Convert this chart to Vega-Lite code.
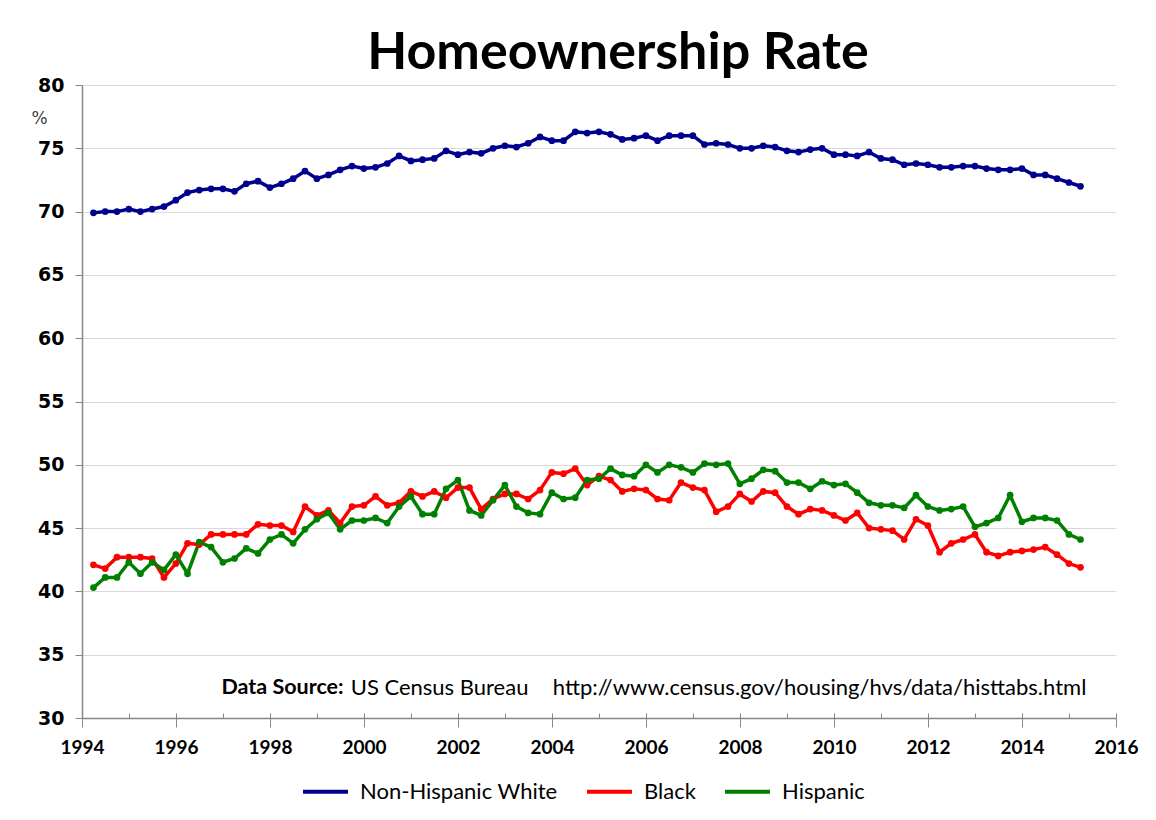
{
  "$schema": "https://vega.github.io/schema/vega-lite/v6.json",
  "autosize": {"type": "none"},
  "width": 1034,
  "height": 633,
  "padding": {"left": 82, "top": 85, "right": 40, "bottom": 102},
  "background": "white",
  "title": {"text": "Homeownership Rate", "font": "Lato", "fontSize": 52, "fontWeight": "bold", "color": "black", "anchor": "middle", "frame": "group", "baseline": "alphabetic", "offset": 14, "dx": 19, "dy": 59},
  "config": {"view": {"stroke": null}},
  "resolve": {"axis": {"x": "independent"}},
  "layer": [
    {
      "data": {"values": [
        {"d": "1994-03-31", "Non-Hispanic White": 69.9, "Black": 42.1, "Hispanic": 40.3},
        {"d": "1994-06-30", "Non-Hispanic White": 70.0, "Black": 41.8, "Hispanic": 41.1},
        {"d": "1994-09-30", "Non-Hispanic White": 70.0, "Black": 42.7, "Hispanic": 41.1},
        {"d": "1994-12-31", "Non-Hispanic White": 70.2, "Black": 42.7, "Hispanic": 42.3},
        {"d": "1995-03-31", "Non-Hispanic White": 70.0, "Black": 42.7, "Hispanic": 41.4},
        {"d": "1995-06-30", "Non-Hispanic White": 70.2, "Black": 42.6, "Hispanic": 42.3},
        {"d": "1995-09-30", "Non-Hispanic White": 70.4, "Black": 41.1, "Hispanic": 41.7},
        {"d": "1995-12-31", "Non-Hispanic White": 70.9, "Black": 42.2, "Hispanic": 42.9},
        {"d": "1996-03-31", "Non-Hispanic White": 71.5, "Black": 43.8, "Hispanic": 41.4},
        {"d": "1996-06-30", "Non-Hispanic White": 71.7, "Black": 43.7, "Hispanic": 43.9},
        {"d": "1996-09-30", "Non-Hispanic White": 71.8, "Black": 44.5, "Hispanic": 43.5},
        {"d": "1996-12-31", "Non-Hispanic White": 71.8, "Black": 44.5, "Hispanic": 42.3},
        {"d": "1997-03-31", "Non-Hispanic White": 71.6, "Black": 44.5, "Hispanic": 42.6},
        {"d": "1997-06-30", "Non-Hispanic White": 72.2, "Black": 44.5, "Hispanic": 43.4},
        {"d": "1997-09-30", "Non-Hispanic White": 72.4, "Black": 45.3, "Hispanic": 43.0},
        {"d": "1997-12-31", "Non-Hispanic White": 71.9, "Black": 45.2, "Hispanic": 44.1},
        {"d": "1998-03-31", "Non-Hispanic White": 72.2, "Black": 45.2, "Hispanic": 44.5},
        {"d": "1998-06-30", "Non-Hispanic White": 72.6, "Black": 44.7, "Hispanic": 43.8},
        {"d": "1998-09-30", "Non-Hispanic White": 73.2, "Black": 46.7, "Hispanic": 44.9},
        {"d": "1998-12-31", "Non-Hispanic White": 72.6, "Black": 46.0, "Hispanic": 45.7},
        {"d": "1999-03-31", "Non-Hispanic White": 72.9, "Black": 46.4, "Hispanic": 46.2},
        {"d": "1999-06-30", "Non-Hispanic White": 73.3, "Black": 45.4, "Hispanic": 44.9},
        {"d": "1999-09-30", "Non-Hispanic White": 73.6, "Black": 46.7, "Hispanic": 45.6},
        {"d": "1999-12-31", "Non-Hispanic White": 73.4, "Black": 46.8, "Hispanic": 45.6},
        {"d": "2000-03-31", "Non-Hispanic White": 73.5, "Black": 47.5, "Hispanic": 45.8},
        {"d": "2000-06-30", "Non-Hispanic White": 73.8, "Black": 46.8, "Hispanic": 45.4},
        {"d": "2000-09-30", "Non-Hispanic White": 74.4, "Black": 47.0, "Hispanic": 46.7},
        {"d": "2000-12-31", "Non-Hispanic White": 74.0, "Black": 47.9, "Hispanic": 47.5},
        {"d": "2001-03-31", "Non-Hispanic White": 74.1, "Black": 47.5, "Hispanic": 46.1},
        {"d": "2001-06-30", "Non-Hispanic White": 74.2, "Black": 47.9, "Hispanic": 46.1},
        {"d": "2001-09-30", "Non-Hispanic White": 74.8, "Black": 47.4, "Hispanic": 48.1},
        {"d": "2001-12-31", "Non-Hispanic White": 74.5, "Black": 48.2, "Hispanic": 48.8},
        {"d": "2002-03-31", "Non-Hispanic White": 74.7, "Black": 48.2, "Hispanic": 46.4},
        {"d": "2002-06-30", "Non-Hispanic White": 74.6, "Black": 46.5, "Hispanic": 46.0},
        {"d": "2002-09-30", "Non-Hispanic White": 75.0, "Black": 47.3, "Hispanic": 47.2},
        {"d": "2002-12-31", "Non-Hispanic White": 75.2, "Black": 47.7, "Hispanic": 48.4},
        {"d": "2003-03-31", "Non-Hispanic White": 75.1, "Black": 47.7, "Hispanic": 46.7},
        {"d": "2003-06-30", "Non-Hispanic White": 75.4, "Black": 47.3, "Hispanic": 46.2},
        {"d": "2003-09-30", "Non-Hispanic White": 75.9, "Black": 48.0, "Hispanic": 46.1},
        {"d": "2003-12-31", "Non-Hispanic White": 75.6, "Black": 49.4, "Hispanic": 47.8},
        {"d": "2004-03-31", "Non-Hispanic White": 75.6, "Black": 49.3, "Hispanic": 47.3},
        {"d": "2004-06-30", "Non-Hispanic White": 76.3, "Black": 49.7, "Hispanic": 47.4},
        {"d": "2004-09-30", "Non-Hispanic White": 76.2, "Black": 48.4, "Hispanic": 48.8},
        {"d": "2004-12-31", "Non-Hispanic White": 76.3, "Black": 49.1, "Hispanic": 48.9},
        {"d": "2005-03-31", "Non-Hispanic White": 76.1, "Black": 48.8, "Hispanic": 49.7},
        {"d": "2005-06-30", "Non-Hispanic White": 75.7, "Black": 47.9, "Hispanic": 49.2},
        {"d": "2005-09-30", "Non-Hispanic White": 75.8, "Black": 48.1, "Hispanic": 49.1},
        {"d": "2005-12-31", "Non-Hispanic White": 76.0, "Black": 48.0, "Hispanic": 50.0},
        {"d": "2006-03-31", "Non-Hispanic White": 75.6, "Black": 47.3, "Hispanic": 49.4},
        {"d": "2006-06-30", "Non-Hispanic White": 76.0, "Black": 47.2, "Hispanic": 50.0},
        {"d": "2006-09-30", "Non-Hispanic White": 76.0, "Black": 48.6, "Hispanic": 49.8},
        {"d": "2006-12-31", "Non-Hispanic White": 76.0, "Black": 48.2, "Hispanic": 49.4},
        {"d": "2007-03-31", "Non-Hispanic White": 75.3, "Black": 48.0, "Hispanic": 50.1},
        {"d": "2007-06-30", "Non-Hispanic White": 75.4, "Black": 46.3, "Hispanic": 50.0},
        {"d": "2007-09-30", "Non-Hispanic White": 75.3, "Black": 46.7, "Hispanic": 50.1},
        {"d": "2007-12-31", "Non-Hispanic White": 75.0, "Black": 47.7, "Hispanic": 48.5},
        {"d": "2008-03-31", "Non-Hispanic White": 75.0, "Black": 47.1, "Hispanic": 48.9},
        {"d": "2008-06-30", "Non-Hispanic White": 75.2, "Black": 47.9, "Hispanic": 49.6},
        {"d": "2008-09-30", "Non-Hispanic White": 75.1, "Black": 47.8, "Hispanic": 49.5},
        {"d": "2008-12-31", "Non-Hispanic White": 74.8, "Black": 46.7, "Hispanic": 48.6},
        {"d": "2009-03-31", "Non-Hispanic White": 74.7, "Black": 46.1, "Hispanic": 48.6},
        {"d": "2009-06-30", "Non-Hispanic White": 74.9, "Black": 46.5, "Hispanic": 48.1},
        {"d": "2009-09-30", "Non-Hispanic White": 75.0, "Black": 46.4, "Hispanic": 48.7},
        {"d": "2009-12-31", "Non-Hispanic White": 74.5, "Black": 46.0, "Hispanic": 48.4},
        {"d": "2010-03-31", "Non-Hispanic White": 74.5, "Black": 45.6, "Hispanic": 48.5},
        {"d": "2010-06-30", "Non-Hispanic White": 74.4, "Black": 46.2, "Hispanic": 47.8},
        {"d": "2010-09-30", "Non-Hispanic White": 74.7, "Black": 45.0, "Hispanic": 47.0},
        {"d": "2010-12-31", "Non-Hispanic White": 74.2, "Black": 44.9, "Hispanic": 46.8},
        {"d": "2011-03-31", "Non-Hispanic White": 74.1, "Black": 44.8, "Hispanic": 46.8},
        {"d": "2011-06-30", "Non-Hispanic White": 73.7, "Black": 44.1, "Hispanic": 46.6},
        {"d": "2011-09-30", "Non-Hispanic White": 73.8, "Black": 45.7, "Hispanic": 47.6},
        {"d": "2011-12-31", "Non-Hispanic White": 73.7, "Black": 45.2, "Hispanic": 46.7},
        {"d": "2012-03-31", "Non-Hispanic White": 73.5, "Black": 43.1, "Hispanic": 46.4},
        {"d": "2012-06-30", "Non-Hispanic White": 73.5, "Black": 43.8, "Hispanic": 46.5},
        {"d": "2012-09-30", "Non-Hispanic White": 73.6, "Black": 44.1, "Hispanic": 46.7},
        {"d": "2012-12-31", "Non-Hispanic White": 73.6, "Black": 44.5, "Hispanic": 45.1},
        {"d": "2013-03-31", "Non-Hispanic White": 73.4, "Black": 43.1, "Hispanic": 45.4},
        {"d": "2013-06-30", "Non-Hispanic White": 73.3, "Black": 42.8, "Hispanic": 45.8},
        {"d": "2013-09-30", "Non-Hispanic White": 73.3, "Black": 43.1, "Hispanic": 47.6},
        {"d": "2013-12-31", "Non-Hispanic White": 73.4, "Black": 43.2, "Hispanic": 45.5},
        {"d": "2014-03-31", "Non-Hispanic White": 72.9, "Black": 43.3, "Hispanic": 45.8},
        {"d": "2014-06-30", "Non-Hispanic White": 72.9, "Black": 43.5, "Hispanic": 45.8},
        {"d": "2014-09-30", "Non-Hispanic White": 72.6, "Black": 42.9, "Hispanic": 45.6},
        {"d": "2014-12-31", "Non-Hispanic White": 72.3, "Black": 42.2, "Hispanic": 44.5},
        {"d": "2015-03-31", "Non-Hispanic White": 72.0, "Black": 41.9, "Hispanic": 44.1}
      ]},
      "transform": [{"fold": ["Non-Hispanic White", "Black", "Hispanic"], "as": ["series", "v"]}],
      "mark": {"type": "line", "strokeWidth": 3.5, "point": {"filled": true, "size": 45}},
      "encoding": {
        "x": {
          "field": "d", "type": "temporal",
          "scale": {"type": "utc", "domain": [{"year": 1994, "month": 1, "date": 1, "utc": true}, {"year": 2016, "month": 1, "date": 1, "utc": true}]},
          "axis": {
            "orient": "bottom", "title": null, "grid": false,
            "values": [{"year": 1994, "utc": true}, {"year": 1996, "utc": true}, {"year": 1998, "utc": true}, {"year": 2000, "utc": true}, {"year": 2002, "utc": true}, {"year": 2004, "utc": true}, {"year": 2006, "utc": true}, {"year": 2008, "utc": true}, {"year": 2010, "utc": true}, {"year": 2012, "utc": true}, {"year": 2014, "utc": true}, {"year": 2016, "utc": true}],
            "labelExpr": "utcFormat(datum.value, '%Y')",
            "tickSize": 9, "tickColor": "#868686", "domainColor": "#868686", "domainWidth": 1.5,
            "labelFont": "Lato", "labelFontWeight": "bold", "labelFontSize": 19, "labelColor": "black", "labelPadding": 11,
            "labelOverlap": false, "labelFlush": false
          }
        },
        "y": {
          "field": "v", "type": "quantitative",
          "scale": {"domain": [30, 80], "nice": false, "zero": false},
          "axis": {
            "values": [30, 35, 40, 45, 50, 55, 60, 65, 70, 75, 80],
            "grid": true, "gridColor": "#D9D9D9", "gridWidth": 1.2,
            "tickSize": 7, "tickColor": "#868686", "domainColor": "#868686", "domainWidth": 1.5,
            "labelFont": "DejaVu Sans", "labelFontWeight": "bold", "labelFontSize": 19, "labelColor": "black", "labelPadding": 11,
            "title": "%", "titleAngle": 0, "titleX": -43, "titleY": 33, "titleAlign": "center", "titleBaseline": "middle",
            "titleFont": "DejaVu Sans", "titleFontSize": 17, "titleFontWeight": "normal", "titleColor": "#404040"
          }
        },
        "color": {
          "field": "series", "type": "nominal",
          "scale": {"domain": ["Non-Hispanic White", "Black", "Hispanic"], "range": ["#00008E", "#FF0000", "#008000"]},
          "legend": {
            "orient": "none", "legendX": 219, "legendY": 682, "direction": "horizontal", "title": null,
            "symbolType": "stroke", "symbolSize": 2025, "symbolStrokeWidth": 4,
            "labelFont": "Lato", "labelFontSize": 22, "labelColor": "black", "labelOffset": 10, "labelLimit": 0, "columnPadding": 21
          }
        }
      }
    },
    {
      "layer": [
        {
          "data": {"values": [{"d": "1996-12-20", "v": 32.4, "t": "Data Source:"}]},
          "mark": {"type": "text", "align": "left", "baseline": "middle", "font": "Lato", "fontSize": 21.5, "fontWeight": "bold", "color": "black"},
          "encoding": {
            "x": {"field": "d", "type": "temporal", "axis": {
              "orient": "bottom", "title": null, "grid": false, "labels": false, "domain": false,
              "values": [{"year": 1994, "utc": true}, {"year": 1995, "utc": true}, {"year": 1996, "utc": true}, {"year": 1997, "utc": true}, {"year": 1998, "utc": true}, {"year": 1999, "utc": true}, {"year": 2000, "utc": true}, {"year": 2001, "utc": true}, {"year": 2002, "utc": true}, {"year": 2003, "utc": true}, {"year": 2004, "utc": true}, {"year": 2005, "utc": true}, {"year": 2006, "utc": true}, {"year": 2007, "utc": true}, {"year": 2008, "utc": true}, {"year": 2009, "utc": true}, {"year": 2010, "utc": true}, {"year": 2011, "utc": true}, {"year": 2012, "utc": true}, {"year": 2013, "utc": true}, {"year": 2014, "utc": true}, {"year": 2015, "utc": true}, {"year": 2016, "utc": true}],
              "tickSize": -5, "tickColor": "#868686"
            }},
            "y": {"field": "v", "type": "quantitative"},
            "text": {"field": "t"}
          }
        },
        {
          "data": {"values": [
            {"d": "1999-09-20", "v": 32.4, "t": "US Census Bureau"},
            {"d": "2004-01-08", "v": 32.4, "t": "http://www.census.gov/housing/hvs/data/histtabs.html"}
          ]},
          "mark": {"type": "text", "align": "left", "baseline": "middle", "font": "Lato", "fontSize": 22, "fontWeight": "normal", "color": "black"},
          "encoding": {
            "x": {"field": "d", "type": "temporal"},
            "y": {"field": "v", "type": "quantitative"},
            "text": {"field": "t"}
          }
        }
      ]
    }
  ]
}
